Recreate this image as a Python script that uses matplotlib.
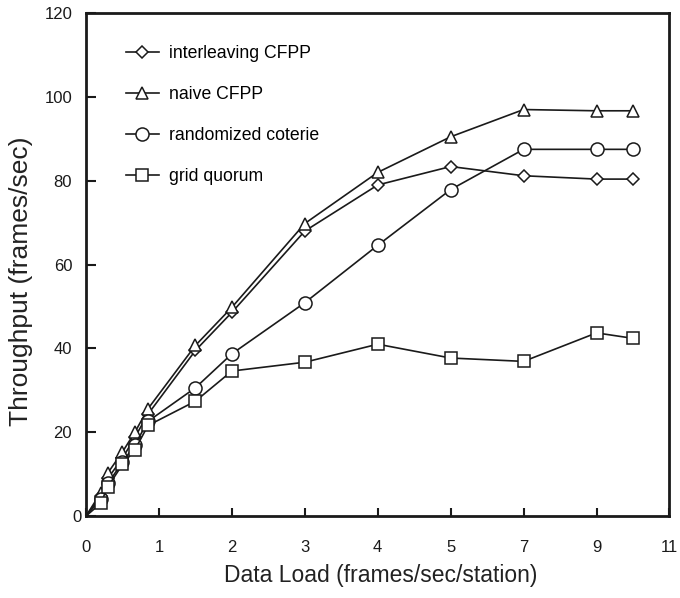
import numpy as np
import matplotlib
matplotlib.use("Agg")
import matplotlib.pyplot as plt

plt.rcParams["font.family"] = ["Liberation Sans", "DejaVu Sans"]

# Offered data load (frames/sec/station) and measured throughput (frames/sec)
data_load = [0, 0.2, 0.3, 0.5, 0.67, 0.85, 1.5, 2, 3, 4, 5, 7, 9, 10]
interleaving_cfpp = [0, 4.8, 9.0, 13.8, 18.8, 24.3, 39.5, 48.6, 68.0, 79.0, 83.4, 81.2, 80.4, 80.4]
naive_cfpp = [0, 5.5, 10.3, 15.3, 20.0, 25.6, 40.7, 49.8, 69.8, 82.0, 90.5, 97.0, 96.7, 96.7]
randomized_coterie = [0, 4.0, 7.8, 12.8, 17.0, 22.6, 30.6, 38.7, 50.9, 64.6, 77.9, 87.5, 87.5, 87.5]
grid_quorum = [0, 3.0, 7.0, 12.3, 15.8, 21.6, 27.4, 34.6, 36.7, 41.0, 37.7, 36.9, 43.7, 42.4]

series_labels = ["interleaving CFPP", "naive CFPP", "randomized coterie", "grid quorum"]
x_ticks = [0, 1, 2, 3, 4, 5, 7, 9, 11]
y_ticks = [0, 20, 40, 60, 80, 100, 120]


# Load axis is linear up to 5, then compressed by half beyond that
def fwd(x):
    x = np.asarray(x, dtype=float)
    return np.where(x <= 5, x, 5 + (x - 5) / 2.0)


def inv(t):
    t = np.asarray(t, dtype=float)
    return np.where(t <= 5, t, 5 + 2.0 * (t - 5))


fig = plt.figure(figsize=(6.8, 5.98), dpi=100)
ax = fig.add_axes([0.1265, 0.1371, 0.858, 0.8409])
ax.set_xscale("function", functions=(fwd, inv))

styles = [
    dict(marker="D", ms=6.6),
    dict(marker="^", ms=9.2),
    dict(marker="o", ms=9.4),
    dict(marker="s", ms=9.0),
]
for values, label, st in zip(
    [interleaving_cfpp, naive_cfpp, randomized_coterie, grid_quorum], series_labels, styles
):
    ax.plot(
        data_load, values, color="#1a1a1a", lw=1.2, marker=st["marker"], ms=st["ms"],
        mfc="white", mec="#1a1a1a", mew=1.1, markevery=slice(1, None), label=label,
    )

ax.set_xlim(0, 11)
ax.set_ylim(0, 120)
ax.set_xticks(x_ticks)
ax.set_xticklabels([str(v) for v in x_ticks])
ax.set_yticks(y_ticks)
ax.set_yticklabels([str(v) for v in y_ticks])

for sp in ax.spines.values():
    sp.set_linewidth(2.0)
    sp.set_color("#1a1a1a")

ax.tick_params(axis="x", direction="in", length=5.5, width=1.5, pad=17, labelsize=12,
               colors="#1a1a1a")
ax.tick_params(axis="y", direction="in", length=7, width=1.5, pad=10, labelsize=12,
               colors="#1a1a1a")
ax.yaxis.get_major_ticks()[0].set_pad(3)

ax.set_xlabel("Data Load (frames/sec/station)", fontsize=16.5, color="#222222")
ax.set_ylabel("Throughput (frames/sec)", fontsize=19, color="#222222")
ax.xaxis.set_label_coords(0.505, -0.095)
ax.yaxis.set_label_coords(-0.091, 0.466)

leg = ax.legend(
    loc="upper left", bbox_to_anchor=(0.068, 0.937), frameon=False, fontsize=12.7,
    borderaxespad=0, borderpad=0, handlelength=1.9, handletextpad=0.55,
    labelspacing=1.37, numpoints=1,
)

fig.savefig("out.png", dpi=100)
